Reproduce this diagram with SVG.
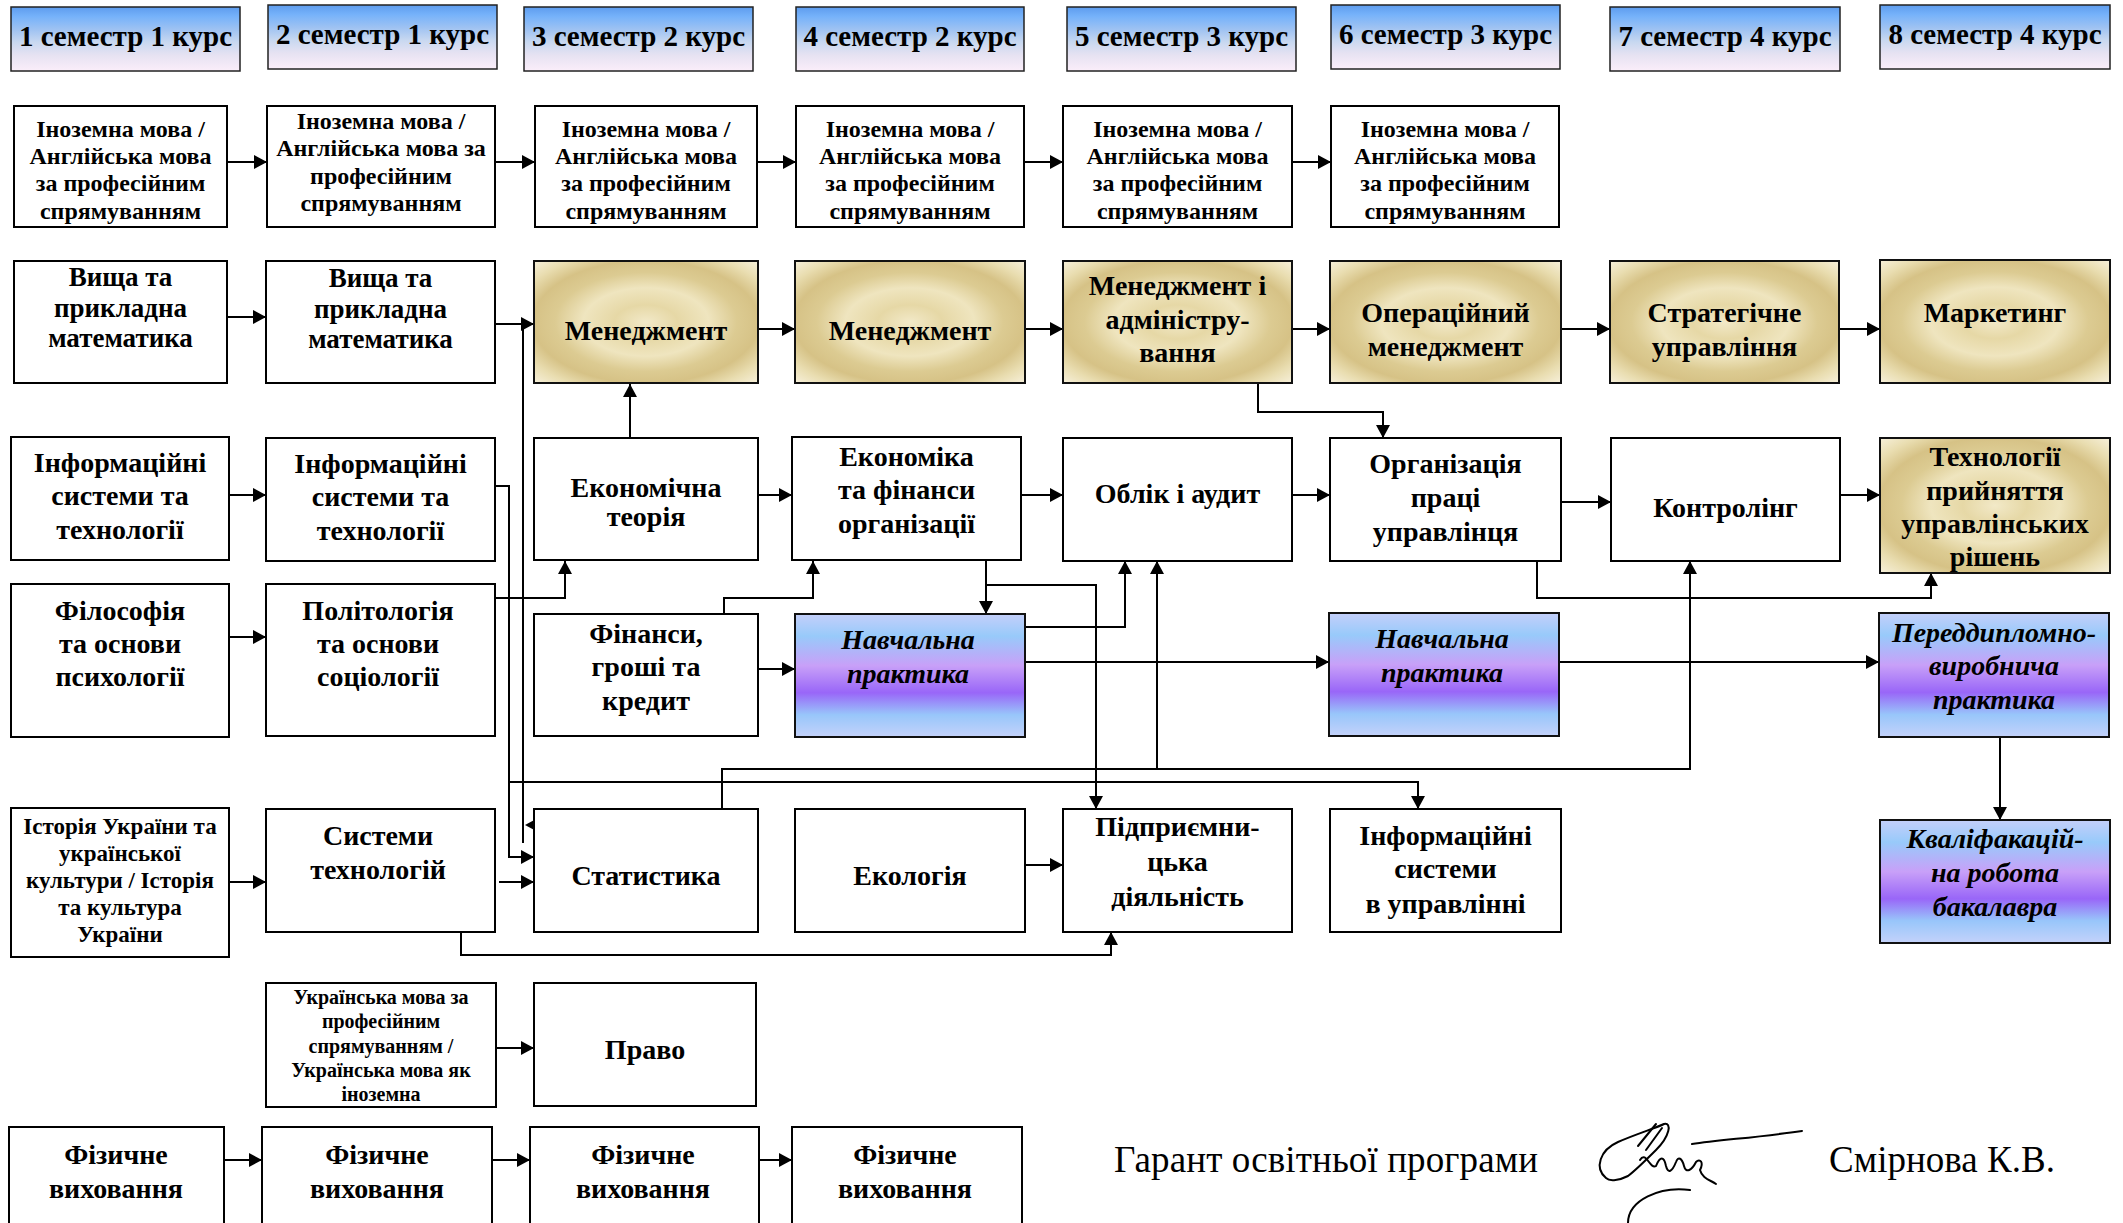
<svg xmlns="http://www.w3.org/2000/svg" width="2123" height="1223" viewBox="0 0 2123 1223">
<style>
.box{fill:#fff;stroke:#000;stroke-width:2}
.gold{fill:url(#gold);stroke:#111;stroke-width:2}
.prac{fill:url(#prac);stroke:#111;stroke-width:2}
.hdr{fill:url(#hdr);stroke:#222;stroke-width:1.5}
text{font-family:"Liberation Serif","Times New Roman",serif;font-weight:bold;text-anchor:middle;fill:#000}
.h{font-size:29px}
.s24{font-size:24px}
.s27{font-size:27px}
.s28{font-size:28px}
.s23{font-size:23px}
.s20{font-size:20px}
.it{font-style:italic}
.sig{font-weight:normal;text-anchor:start;font-size:37px}
.conn path{fill:none;stroke:#000;stroke-width:2;marker-end:url(#arr)}
.conn path.na{marker-end:none}
.scr{fill:none;stroke:#000;stroke-width:2;stroke-linecap:round}
</style>
<defs>
<marker id="arr" markerUnits="userSpaceOnUse" markerWidth="14" markerHeight="14" refX="13" refY="7" orient="auto">
<path d="M0,0 L13,7 L0,14 z" fill="#000"/>
</marker>
<linearGradient id="hdr" x1="0" y1="0" x2="0" y2="1">
<stop offset="0" stop-color="#5e9cee"/>
<stop offset="0.15" stop-color="#76b2fa"/>
<stop offset="0.35" stop-color="#9ec2f2"/>
<stop offset="0.55" stop-color="#c8d8f0"/>
<stop offset="0.75" stop-color="#e6e2f2"/>
<stop offset="1" stop-color="#fbeefa"/>
</linearGradient>
<radialGradient id="gold" cx="0.5" cy="0.5" r="0.7">
<stop offset="0" stop-color="#f2e9c8"/>
<stop offset="0.2" stop-color="#e6d8a6"/>
<stop offset="0.4" stop-color="#efe5bf"/>
<stop offset="0.58" stop-color="#dccb92"/>
<stop offset="0.72" stop-color="#d6c286"/>
<stop offset="0.86" stop-color="#e9ddb0"/>
<stop offset="1" stop-color="#f6efd8"/>
</radialGradient>
<linearGradient id="prac" x1="0" y1="0" x2="0" y2="1">
<stop offset="0" stop-color="#c4cffa"/>
<stop offset="0.18" stop-color="#98cafa"/>
<stop offset="0.42" stop-color="#c8a0f8"/>
<stop offset="0.64" stop-color="#9966f8"/>
<stop offset="0.82" stop-color="#98c6fa"/>
<stop offset="1" stop-color="#c4d2fa"/>
</linearGradient>
</defs>
<rect width="2123" height="1223" fill="#fff"/>

<g id="headers">
<g id="h1"><rect class="hdr" x="11" y="7" width="229" height="64"/><text class="h" x="125.5" y="46">1 семестр 1 курс</text></g>
<g id="h2"><rect class="hdr" x="268" y="5" width="229" height="64"/><text class="h" x="382.5" y="44">2 семестр 1 курс</text></g>
<g id="h3"><rect class="hdr" x="524" y="7" width="229" height="64"/><text class="h" x="638.5" y="46">3 семестр 2 курс</text></g>
<g id="h4"><rect class="hdr" x="796" y="7" width="228" height="64"/><text class="h" x="910" y="46">4 семестр 2 курс</text></g>
<g id="h5"><rect class="hdr" x="1067" y="7" width="229" height="64"/><text class="h" x="1181.5" y="46">5 семестр 3 курс</text></g>
<g id="h6"><rect class="hdr" x="1331" y="5" width="229" height="64"/><text class="h" x="1445.5" y="44">6 семестр 3 курс</text></g>
<g id="h7"><rect class="hdr" x="1610" y="7" width="230" height="64"/><text class="h" x="1725" y="46">7 семестр 4 курс</text></g>
<g id="h8"><rect class="hdr" x="1880" y="5" width="230" height="64"/><text class="h" x="1995" y="44">8 семестр 4 курс</text></g>
</g>

<g id="connectors" class="conn">
<path d="M227,162 H267"/>
<path d="M495,162 H535"/>
<path d="M757,162 H796"/>
<path d="M1024,162 H1063"/>
<path d="M1292,162 H1331"/>
<path d="M227,317 H266"/>
<path d="M495,324 H534"/>
<path class="na" d="M523,324 V843"/>
<path d="M495,486 H509 V857 H534"/>
<path d="M509,782 H1418 V809"/>
<path d="M758,329 H795"/>
<path d="M1025,329 H1063"/>
<path d="M1292,329 H1330"/>
<path d="M1561,329 H1610"/>
<path d="M1839,329 H1880"/>
<path d="M1258,384 V412 H1383 V438"/>
<path d="M630,438 V384"/>
<path d="M229,495 H266"/>
<path d="M758,495 H792"/>
<path d="M1021,495 H1063"/>
<path d="M1292,495 H1330"/>
<path d="M1561,502 H1611"/>
<path d="M1840,495 H1880"/>
<path d="M495,598 H565 V561"/>
<path d="M724,614 V598 H813 V561"/>
<path d="M986,561 V614"/>
<path d="M986,585 H1096 V809"/>
<path d="M1025,627 H1125 V561"/>
<path d="M722,809 V769 H1690 V561"/>
<path d="M1157,769 V561"/>
<path d="M1537,561 V598 H1931 V573"/>
<path d="M229,637 H266"/>
<path d="M758,669 H795"/>
<path d="M1025,662 H1329"/>
<path d="M1559,662 H1879"/>
<path d="M2000,737 V820"/>
<path d="M229,882 H266"/>
<path d="M499,882 H534"/>
<path d="M1025,865 H1063"/>
<path d="M461,932 V955 H1111 V932"/>
<path d="M496,1048 H534"/>
<path d="M224,1160 H262"/>
<path d="M492,1160 H530"/>
<path d="M759,1160 H792"/>
<polygon points="525,825 538,818 538,832" fill="#000"/>
</g>

<g id="n-inoz1"><rect class="box" x="14" y="106" width="213" height="121"/><text class="s24"><tspan x="120.5" y="137">Іноземна мова /</tspan><tspan x="120.5" y="164">Англійська мова</tspan><tspan x="120.5" y="191">за професійним</tspan><tspan x="120.5" y="219">спрямуванням</tspan></text></g>
<g id="n-inoz2"><rect class="box" x="267" y="106" width="228" height="121"/><text class="s24"><tspan x="381" y="129">Іноземна мова /</tspan><tspan x="381" y="156">Англійська мова за</tspan><tspan x="381" y="184">професійним</tspan><tspan x="381" y="211">спрямуванням</tspan></text></g>
<g id="n-inoz3"><rect class="box" x="535" y="106" width="222" height="121"/><text class="s24"><tspan x="646" y="137">Іноземна мова /</tspan><tspan x="646" y="164">Англійська мова</tspan><tspan x="646" y="191">за професійним</tspan><tspan x="646" y="219">спрямуванням</tspan></text></g>
<g id="n-inoz4"><rect class="box" x="796" y="106" width="228" height="121"/><text class="s24"><tspan x="910" y="137">Іноземна мова /</tspan><tspan x="910" y="164">Англійська мова</tspan><tspan x="910" y="191">за професійним</tspan><tspan x="910" y="219">спрямуванням</tspan></text></g>
<g id="n-inoz5"><rect class="box" x="1063" y="106" width="229" height="121"/><text class="s24"><tspan x="1177.5" y="137">Іноземна мова /</tspan><tspan x="1177.5" y="164">Англійська мова</tspan><tspan x="1177.5" y="191">за професійним</tspan><tspan x="1177.5" y="219">спрямуванням</tspan></text></g>
<g id="n-inoz6"><rect class="box" x="1331" y="106" width="228" height="121"/><text class="s24"><tspan x="1445" y="137">Іноземна мова /</tspan><tspan x="1445" y="164">Англійська мова</tspan><tspan x="1445" y="191">за професійним</tspan><tspan x="1445" y="219">спрямуванням</tspan></text></g>

<g id="n-vyshcha1"><rect class="box" x="14" y="261" width="213" height="122"/><text class="s27"><tspan x="120.5" y="286">Вища та</tspan><tspan x="120.5" y="317">прикладна</tspan><tspan x="120.5" y="347">математика</tspan></text></g>
<g id="n-vyshcha2"><rect class="box" x="266" y="261" width="229" height="122"/><text class="s27"><tspan x="380.5" y="287">Вища та</tspan><tspan x="380.5" y="318">прикладна</tspan><tspan x="380.5" y="348">математика</tspan></text></g>
<g id="n-men1"><rect class="gold" x="534" y="261" width="224" height="122"/><text class="s28" x="646" y="340">Менеджмент</text></g>
<g id="n-men2"><rect class="gold" x="795" y="261" width="230" height="122"/><text class="s28" x="910" y="340">Менеджмент</text></g>
<g id="n-mia"><rect class="gold" x="1063" y="261" width="229" height="122"/><text class="s28"><tspan x="1177.5" y="295">Менеджмент і</tspan><tspan x="1177.5" y="329">адміністру-</tspan><tspan x="1177.5" y="362">вання</tspan></text></g>
<g id="n-oper"><rect class="gold" x="1330" y="261" width="231" height="122"/><text class="s28"><tspan x="1445.5" y="322">Операційний</tspan><tspan x="1445.5" y="356">менеджмент</tspan></text></g>
<g id="n-strat"><rect class="gold" x="1610" y="261" width="229" height="122"/><text class="s28"><tspan x="1724.5" y="322">Стратегічне</tspan><tspan x="1724.5" y="356">управління</tspan></text></g>
<g id="n-mark"><rect class="gold" x="1880" y="260" width="230" height="123"/><text class="s28" x="1995" y="322">Маркетинг</text></g>

<g id="n-inf1"><rect class="box" x="11" y="437" width="218" height="123"/><text class="s28"><tspan x="120" y="472">Інформаційні</tspan><tspan x="120" y="505">системи та</tspan><tspan x="120" y="539">технології</tspan></text></g>
<g id="n-inf2"><rect class="box" x="266" y="438" width="229" height="123"/><text class="s28"><tspan x="380.5" y="473">Інформаційні</tspan><tspan x="380.5" y="506">системи та</tspan><tspan x="380.5" y="540">технології</tspan></text></g>
<g id="n-ektheory"><rect class="box" x="534" y="438" width="224" height="122"/><text class="s28"><tspan x="646" y="497">Економічна</tspan><tspan x="646" y="526">теорія</tspan></text></g>
<g id="n-ekfin"><rect class="box" x="792" y="437" width="229" height="123"/><text class="s28"><tspan x="906.5" y="466">Економіка</tspan><tspan x="906.5" y="499">та фінанси</tspan><tspan x="906.5" y="533">організації</tspan></text></g>
<g id="n-oblik"><rect class="box" x="1063" y="438" width="229" height="123"/><text class="s28" x="1177.5" y="503">Облік і аудит</text></g>
<g id="n-org"><rect class="box" x="1330" y="438" width="231" height="123"/><text class="s28"><tspan x="1445.5" y="473">Організація</tspan><tspan x="1445.5" y="507">праці</tspan><tspan x="1445.5" y="541">управлінця</tspan></text></g>
<g id="n-kontr"><rect class="box" x="1611" y="438" width="229" height="123"/><text class="s28" x="1725.5" y="517">Контролінг</text></g>
<g id="n-tech"><rect class="gold" x="1880" y="438" width="230" height="135"/><text class="s28"><tspan x="1995" y="466">Технології</tspan><tspan x="1995" y="500">прийняття</tspan><tspan x="1995" y="533">управлінських</tspan><tspan x="1995" y="566">рішень</tspan></text></g>

<g id="n-filos"><rect class="box" x="11" y="584" width="218" height="153"/><text class="s28"><tspan x="120" y="620">Філософія</tspan><tspan x="120" y="653">та основи</tspan><tspan x="120" y="686">психології</tspan></text></g>
<g id="n-polit"><rect class="box" x="266" y="584" width="229" height="152"/><text class="s28"><tspan x="378" y="620">Політологія</tspan><tspan x="378" y="653">та основи</tspan><tspan x="378" y="686">соціології</tspan></text></g>
<g id="n-fin"><rect class="box" x="534" y="614" width="224" height="122"/><text class="s28"><tspan x="646" y="643">Фінанси,</tspan><tspan x="646" y="676">гроші та</tspan><tspan x="646" y="710">кредит</tspan></text></g>
<g id="n-prac1"><rect class="prac" x="795" y="614" width="230" height="123"/><text class="s28 it"><tspan x="908" y="649">Навчальна</tspan><tspan x="908" y="683">практика</tspan></text></g>
<g id="n-prac2"><rect class="prac" x="1329" y="613" width="230" height="123"/><text class="s28 it"><tspan x="1442" y="648">Навчальна</tspan><tspan x="1442" y="682">практика</tspan></text></g>
<g id="n-pered"><rect class="prac" x="1879" y="613" width="230" height="124"/><text class="s28 it"><tspan x="1994" y="642">Переддипломно-</tspan><tspan x="1994" y="675">виробнича</tspan><tspan x="1994" y="709">практика</tspan></text></g>
<g id="n-kval"><rect class="prac" x="1880" y="820" width="230" height="123"/><text class="s28 it"><tspan x="1995" y="848">Кваліфакацій-</tspan><tspan x="1995" y="882">на робота</tspan><tspan x="1995" y="916">бакалавра</tspan></text></g>

<g id="n-istor"><rect class="box" x="11" y="808" width="218" height="149"/><text class="s23"><tspan x="120" y="834">Історія України та</tspan><tspan x="120" y="861">української</tspan><tspan x="120" y="888">культури / Історія</tspan><tspan x="120" y="915">та культура</tspan><tspan x="120" y="942">України</tspan></text></g>
<g id="n-systech"><rect class="box" x="266" y="809" width="229" height="123"/><text class="s28"><tspan x="378" y="845">Системи</tspan><tspan x="378" y="879">технологій</tspan></text></g>
<g id="n-stat"><rect class="box" x="534" y="809" width="224" height="123"/><text class="s28" x="646" y="885">Статистика</text></g>
<g id="n-ekol"><rect class="box" x="795" y="809" width="230" height="123"/><text class="s28" x="910" y="885">Екологія</text></g>
<g id="n-pidpr"><rect class="box" x="1063" y="809" width="229" height="123"/><text class="s28"><tspan x="1177.5" y="836">Підприємни-</tspan><tspan x="1177.5" y="871">цька</tspan><tspan x="1177.5" y="906">діяльність</tspan></text></g>
<g id="n-isu"><rect class="box" x="1330" y="809" width="231" height="123"/><text class="s28"><tspan x="1445.5" y="845">Інформаційні</tspan><tspan x="1445.5" y="878">системи</tspan><tspan x="1445.5" y="913">в управлінні</tspan></text></g>

<g id="n-ukr"><rect class="box" x="266" y="983" width="230" height="124"/><text class="s20"><tspan x="381" y="1004">Українська мова  за</tspan><tspan x="381" y="1028">професійним</tspan><tspan x="381" y="1053">спрямуванням /</tspan><tspan x="381" y="1077">Українська мова як</tspan><tspan x="381" y="1101">іноземна</tspan></text></g>
<g id="n-pravo"><rect class="box" x="534" y="983" width="222" height="123"/><text class="s28" x="645" y="1059">Право</text></g>

<g id="n-fiz1"><rect class="box" x="9" y="1127" width="215" height="110"/><text class="s28"><tspan x="116" y="1164">Фізичне</tspan><tspan x="116" y="1198">виховання</tspan></text></g>
<g id="n-fiz2"><rect class="box" x="262" y="1127" width="230" height="110"/><text class="s28"><tspan x="377" y="1164">Фізичне</tspan><tspan x="377" y="1198">виховання</tspan></text></g>
<g id="n-fiz3"><rect class="box" x="530" y="1127" width="229" height="110"/><text class="s28"><tspan x="643" y="1164">Фізичне</tspan><tspan x="643" y="1198">виховання</tspan></text></g>
<g id="n-fiz4"><rect class="box" x="792" y="1127" width="230" height="110"/><text class="s28"><tspan x="905" y="1164">Фізичне</tspan><tspan x="905" y="1198">виховання</tspan></text></g>

<g id="signature">
<text class="sig" x="1114" y="1172" textLength="424">Гарант освітньої програми</text>
<text class="sig" x="1829" y="1172" textLength="226">Смірнова К.В.</text>
<path class="scr" d="M1606,1178 C1594,1168 1600,1150 1618,1142 C1636,1134 1656,1128 1664,1124 C1672,1122 1670,1136 1656,1150 C1646,1160 1636,1170 1628,1176 C1620,1180 1610,1182 1606,1178"/>
<path class="scr" d="M1640,1160 C1646,1150 1650,1170 1656,1166 C1660,1156 1664,1156 1666,1166 C1668,1174 1672,1172 1676,1162 C1678,1156 1682,1158 1684,1166 C1686,1174 1692,1170 1696,1162 C1700,1158 1704,1162 1700,1170 C1702,1178 1710,1180 1716,1184"/>
<path class="scr" d="M1638,1146 L1656,1124 M1646,1150 L1662,1128"/>
<path class="scr" d="M1692,1144 C1720,1140 1760,1137 1802,1131"/>
<path class="scr" d="M1690,1190 C1660,1186 1628,1200 1628,1223"/>
</g>
</svg>
